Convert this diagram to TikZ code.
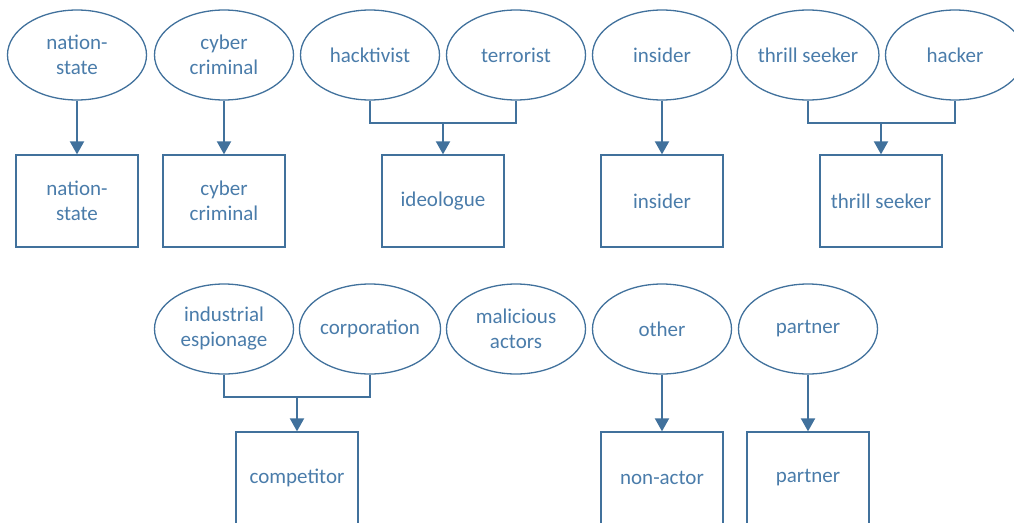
\documentclass[tikz,border=0pt]{standalone}
\usepackage{fontspec}
\setmainfont{Carlito}
\usepackage{tikz}
\usetikzlibrary{shapes.geometric,arrows.meta}
\definecolor{actorblue}{RGB}{65,113,156}
\definecolor{labelblue}{RGB}{74,124,170}

\begin{document}
\begin{tikzpicture}[x=1pt, y=-1pt,
    every node/.style={draw=actorblue, line width=1.3pt, text=labelblue, align=center,
        font=\fontsize{21}{25}\selectfont},
    actor/.style={ellipse, minimum width=139pt, minimum height=90pt, inner sep=0pt},
    group/.style={rectangle, minimum width=122pt, minimum height=92pt, inner sep=0pt},
    link/.style={draw=actorblue, line width=2pt},
    arr/.style={link, -{Triangle[width=14pt,length=13pt]}}]
    \useasboundingbox (0,0) rectangle (1014,522);

    % source actors, top row
    \node[actor] (nse) at (77,55) {nation-\\state};
    \node[actor] (cce) at (224,55) {cyber\\criminal};
    \node[actor] (hke) at (370,55) {hacktivist};
    \node[actor] (tre) at (516,55) {terrorist};
    \node[actor] (ine) at (662,55) {insider};
    \node[actor] (tse) at (808,55) {thrill seeker};
    \node[actor] (hce) at (955,55) {hacker};

    % groups, top row
    \node[group] (nsb) at (77,201) {nation-\\state};
    \node[group] (ccb) at (224,201) {cyber\\criminal};
    \node[group] (idb) at (443,201) {ideologue};
    \node[group] (inb) at (662,201) {insider};
    \node[group] (tsb) at (881,201) {thrill seeker};

    % source actors, bottom row
    \node[actor] (iee) at (224,329) {industrial\\espionage};
    \node[actor] (coe) at (370,329) {corporation};
    \node[actor] (mae) at (516,329) {malicious\\actors};
    \node[actor] (ote) at (662,329) {other};
    \node[actor] (pae) at (808,329) {partner};

    % groups, bottom row
    \node[group] (cpb) at (297,478) {competitor};
    \node[group] (nab) at (662,478) {non-actor};
    \node[group] (pab) at (808,478) {partner};

    \coordinate (jid) at (443,123);
    \coordinate (jts) at (881,123);
    \coordinate (jcp) at (297,397);

    \draw[arr] (nse) -- (nsb);
    \draw[arr] (cce) -- (ccb);
    \draw[link] (hke.south) |- (jid) -| (tre.south);
    \draw[arr] (jid) -- (idb);
    \draw[arr] (ine) -- (inb);
    \draw[link] (tse.south) |- (jts) -| (hce.south);
    \draw[arr] (jts) -- (tsb);
    \draw[link] (iee.south) |- (jcp) -| (coe.south);
    \draw[arr] (jcp) -- (cpb);
    \draw[arr] (ote) -- (nab);
    \draw[arr] (pae) -- (pab);
\end{tikzpicture}
\end{document}
